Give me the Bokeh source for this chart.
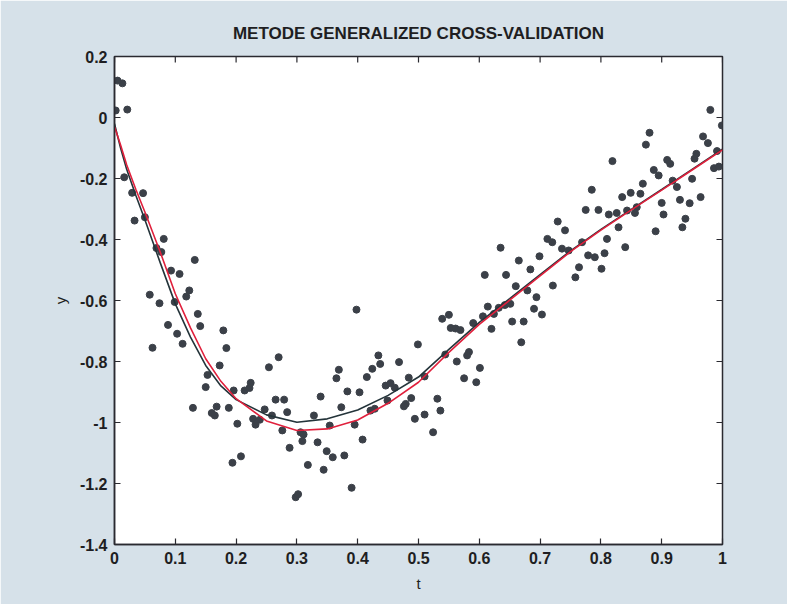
import math
from bokeh.plotting import figure
from bokeh.models import LinearAxis, FixedTicker, Range1d
from bokeh.embed import file_html
from bokeh.resources import INLINE

# observed data points
t_obs = [0.005, 0.013, 0.021, 0.002, 0.016, 0.029, 0.047, 0.033, 0.050, 0.081,
         0.069, 0.077, 0.132, 0.093, 0.107, 0.123, 0.118, 0.058, 0.074, 0.099,
         0.137, 0.088, 0.141, 0.103, 0.112, 0.0625, 0.179, 0.184, 0.173, 0.153,
         0.150, 0.129, 0.160, 0.165, 0.168, 0.188, 0.196, 0.202, 0.194, 0.208,
         0.214, 0.222, 0.224, 0.254, 0.270, 0.265, 0.279, 0.247, 0.259, 0.228,
         0.232, 0.239, 0.284, 0.276, 0.288, 0.298, 0.302, 0.306, 0.311, 0.309,
         0.318, 0.328, 0.334, 0.339, 0.349, 0.344, 0.359, 0.354, 0.365, 0.369,
         0.373, 0.383, 0.378, 0.390, 0.398, 0.403, 0.395, 0.408, 0.434, 0.437,
         0.424, 0.415, 0.468, 0.446, 0.454, 0.461, 0.449, 0.428, 0.421, 0.479,
         0.476, 0.488, 0.484, 0.499, 0.510, 0.494, 0.510, 0.531, 0.536, 0.524,
         0.539, 0.550, 0.553, 0.561, 0.569, 0.544, 0.563, 0.583, 0.580, 0.601,
         0.575, 0.595, 0.729, 0.741, 0.712, 0.720, 0.736, 0.747, 0.635, 0.665,
         0.699, 0.684, 0.764, 0.758, 0.609, 0.644, 0.721, 0.660, 0.679, 0.694,
         0.690, 0.703, 0.614, 0.632, 0.642, 0.651, 0.606, 0.624, 0.654, 0.673,
         0.590, 0.620, 0.669, 0.980, 0.999, 0.880, 0.874, 0.968, 0.976, 0.991,
         0.819, 0.909, 0.914, 0.957, 0.954, 0.986, 0.994, 0.887, 0.895, 0.950,
         0.918, 0.925, 0.869, 0.785, 0.849, 0.865, 0.835, 0.964, 0.930, 0.946,
         0.900, 0.775, 0.796, 0.859, 0.856, 0.813, 0.826, 0.843, 0.903, 0.939,
         0.934, 0.829, 0.890, 0.810, 0.840, 0.769, 0.779, 0.790, 0.806, 0.801]
y_obs = [0.121, 0.112, 0.026, 0.023, -0.196, -0.247, -0.248, -0.338, -0.327, -0.398,
         -0.428, -0.441, -0.467, -0.502, -0.513, -0.567, -0.587, -0.581, -0.609, -0.605,
         -0.644, -0.680, -0.684, -0.709, -0.742, -0.755, -0.698, -0.756, -0.813, -0.844,
         -0.884, -0.952, -0.969, -0.977, -0.948, -0.952, -0.895, -1.004, -1.132, -1.111,
         -0.895, -0.887, -0.870, -0.819, -0.786, -0.925, -0.925, -0.957, -0.977, -0.988,
         -1.007, -0.991, -0.966, -1.026, -1.083, -1.245, -1.235, -1.032, -1.039, -1.061,
         -1.139, -0.977, -1.065, -0.915, -1.094, -1.155, -1.114, -1.010, -0.855, -0.827,
         -0.950, -0.898, -1.108, -1.214, -0.630, -0.901, -1.007, -1.056, -0.780, -0.808,
         -0.824, -0.851, -0.802, -0.879, -0.871, -0.886, -0.928, -0.955, -0.961, -0.939,
         -0.947, -0.920, -0.853, -0.744, -0.849, -0.988, -0.974, -0.922, -0.961, -1.032,
         -0.660, -0.647, -0.690, -0.692, -0.697, -0.777, -0.800, -0.769, -0.780, -0.821,
         -0.855, -0.868, -0.341, -0.370, -0.398, -0.409, -0.430, -0.436, -0.427, -0.469,
         -0.455, -0.498, -0.491, -0.524, -0.516, -0.516, -0.551, -0.553, -0.567, -0.589,
         -0.627, -0.646, -0.620, -0.624, -0.615, -0.611, -0.652, -0.644, -0.669, -0.669,
         -0.674, -0.693, -0.737, 0.025, -0.026, -0.050, -0.089, -0.062, -0.084, -0.110,
         -0.143, -0.139, -0.152, -0.119, -0.135, -0.166, -0.161, -0.172, -0.190, -0.201,
         -0.207, -0.228, -0.217, -0.237, -0.247, -0.250, -0.261, -0.261, -0.270, -0.281,
         -0.280, -0.303, -0.303, -0.294, -0.313, -0.318, -0.313, -0.305, -0.318, -0.332,
         -0.360, -0.360, -0.373, -0.398, -0.425, -0.409, -0.452, -0.458, -0.445, -0.496]

# fitted curves
t_fit = [0, 0.01, 0.02, 0.035, 0.05, 0.075, 0.1, 0.125, 0.15, 0.175, 0.2, 0.25, 0.3,
         0.35, 0.4, 0.45, 0.5, 0.55, 0.6, 0.65, 0.7, 0.75, 0.8, 0.85, 0.9, 0.95, 1.0]
y_gcv = [-0.02, -0.10, -0.17, -0.255, -0.335, -0.475, -0.611, -0.72, -0.813, -0.88, -0.925,
         -0.975, -0.999, -0.988, -0.959, -0.911, -0.851, -0.760, -0.672, -0.594, -0.515,
         -0.437, -0.367, -0.301, -0.236, -0.170, -0.104]
y_true = [-0.03, -0.09, -0.155, -0.235, -0.31, -0.44, -0.578, -0.69, -0.791, -0.865, -0.922,
          -0.995, -1.026, -1.021, -0.992, -0.937, -0.868, -0.770, -0.678, -0.599, -0.519,
          -0.440, -0.369, -0.303, -0.238, -0.172, -0.106]

x_ticks = [0, 0.1, 0.2, 0.3, 0.4, 0.5, 0.6, 0.7, 0.8, 0.9, 1.0]
x_tick_labels = ["0", "0.1", "0.2", "0.3", "0.4", "0.5", "0.6", "0.7", "0.8", "0.9", "1"]
y_ticks = [0.2, 0, -0.2, -0.4, -0.6, -0.8, -1.0, -1.2, -1.4]
y_tick_labels = ["0.2", "0", "-0.2", "-0.4", "-0.6", "-0.8", "-1", "-1.2", "-1.4"]

X_MIN, X_MAX = 0, 1
Y_MIN, Y_MAX = -1.4, 0.2

FONT = "Liberation Sans"
BG = "#d6e1e9"
AX = "#2a2a30"
TXT = "#1e1e22"

p = figure(width=787, height=604, output_backend="svg", toolbar_location=None,
           x_range=Range1d(X_MIN, X_MAX), y_range=Range1d(Y_MIN, Y_MAX),
           x_axis_location=None, y_axis_location=None,
           min_border_left=114, min_border_right=65, min_border_top=56, min_border_bottom=60)
p.border_fill_color = BG
p.background_fill_color = "white"
p.outline_line_color = AX
p.outline_line_width = 1.5
p.grid.visible = False

p.title.text = "METODE GENERALIZED CROSS-VALIDATION"
p.title.align = "center"
p.title.text_font = FONT
p.title.text_font_size = "17px"
p.title.text_font_style = "bold"
p.title.text_color = TXT
p.title.standoff = 27

xt = {v: s for v, s in zip(x_ticks, x_tick_labels)}
yt = {v: s for v, s in zip(y_ticks, y_tick_labels)}

def make_axis(ticks, labels_map, label):
    ax = LinearAxis(ticker=FixedTicker(ticks=ticks))
    ax.major_label_overrides = labels_map
    ax.major_tick_in = 6
    ax.major_tick_out = 0
    ax.minor_tick_line_color = None
    ax.axis_line_color = AX
    ax.axis_line_width = 1.5
    ax.major_tick_line_color = AX
    ax.major_tick_line_width = 1.2
    ax.major_label_text_font = FONT
    ax.major_label_text_font_size = "16px"
    ax.major_label_text_font_style = "bold"
    ax.major_label_text_color = TXT
    ax.major_label_standoff = 7
    ax.axis_label = label
    ax.axis_label_text_font = FONT
    ax.axis_label_text_font_size = "15px"
    ax.axis_label_text_font_style = "normal"
    ax.axis_label_text_color = TXT
    ax.axis_label_standoff = 8
    return ax

p.add_layout(make_axis(x_ticks, xt, "t"), "below")
p.add_layout(make_axis(y_ticks, yt, "y"), "left")

# inward ticks on the top and right edges of the box (clipped to the frame)
p.scatter(x_ticks, [Y_MAX] * len(x_ticks), marker="dash", angle=math.pi / 2, size=12,
          line_color=AX, line_width=1.2)
p.scatter([X_MAX] * len(y_ticks), y_ticks, marker="dash", size=12,
          line_color=AX, line_width=1.2)

p.scatter(t_obs, y_obs, size=7, color="#3b4048", line_color="#3b4048")
p.line(t_fit, y_gcv, line_color="#24343a", line_width=1.6)
p.line(t_fit, y_true, line_color="#e0203c", line_width=1.6)

open("out.html", "w").write(file_html(p, INLINE))
